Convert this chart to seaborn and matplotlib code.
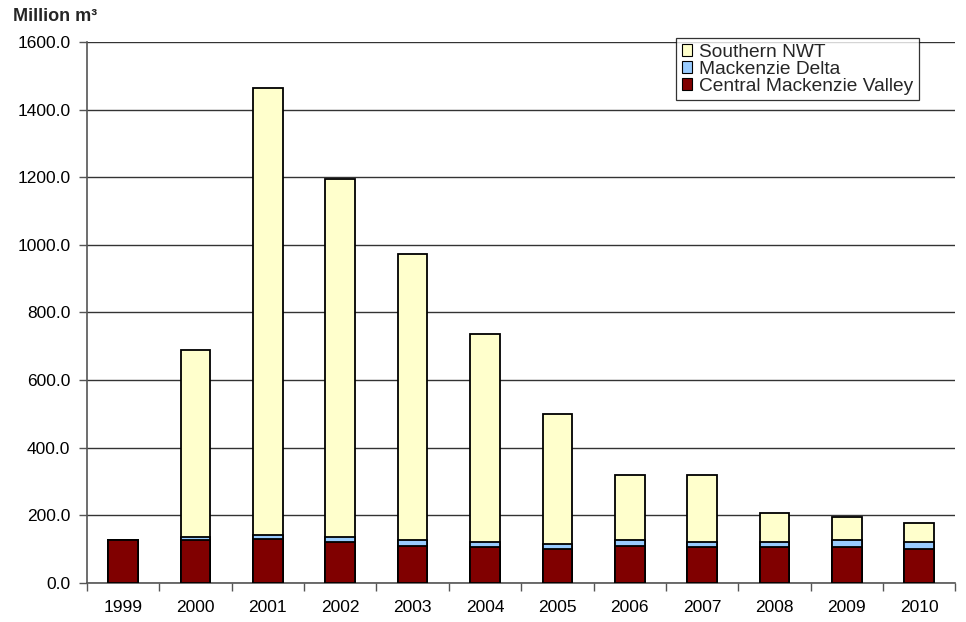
import numpy as np
import pandas as pd
import matplotlib
matplotlib.use("Agg")
import matplotlib.pyplot as plt
import seaborn as sns
from matplotlib.patches import Patch
from matplotlib.ticker import FixedLocator, FixedFormatter

# Volumes (million m3) by region and year
years = ["1999", "2000", "2001", "2002", "2003", "2004",
         "2005", "2006", "2007", "2008", "2009", "2010"]
central_mackenzie_valley = [126, 126, 131, 120, 110, 105, 100, 110, 105, 105, 105, 100]
mackenzie_delta = [0, 10, 11, 17, 16, 16, 14, 16, 16, 16, 21, 21]
southern_nwt = [0, 554, 1322, 1059, 847, 616, 385, 194, 199, 85, 69, 57]

series_names = ["Southern NWT", "Mackenzie Delta", "Central Mackenzie Valley"]
series_colors = ["#FFFFCC", "#99CCFF", "#800000"]
y_ticks = [0, 200, 400, 600, 800, 1000, 1200, 1400, 1600]

sns.set_theme(style="white")
plt.rcParams["font.family"] = ["Liberation Sans", "DejaVu Sans"]

df = pd.DataFrame({
    "year": years,
    "cmv": central_mackenzie_valley,
    "md": mackenzie_delta,
    "snwt": southern_nwt,
})
# cumulative heights, drawn back to front to build the stack
df["cmv_md"] = df["cmv"] + df["md"]
df["total"] = df["cmv_md"] + df["snwt"]

fig = plt.figure(figsize=(9.66, 6.22), dpi=100)
ax = fig.add_axes([0.090, 0.0627, 0.899, 0.8698])

bar_kw = dict(width=0.41, edgecolor="black", linewidth=1.3, saturation=1, errorbar=None, zorder=3)
sns.barplot(data=df, x="year", y="total", color=series_colors[0], ax=ax, **bar_kw)
sns.barplot(data=df, x="year", y="cmv_md", color=series_colors[1], ax=ax, **bar_kw)
sns.barplot(data=df, x="year", y="cmv", color=series_colors[2], ax=ax, **bar_kw)

ax.set_ylim(0, 1600)
ax.set_xlim(-0.5, len(years) - 0.5)
ax.set_yticks(y_ticks)
ax.set_yticklabels([f"{v:.1f}" for v in y_ticks])
ax.yaxis.grid(True, color="#333333", linewidth=1.0, zorder=0)
ax.set_axisbelow(True)
ax.set_xlabel("")
ax.set_ylabel("")

# category labels centred, tick marks on category boundaries
ax.xaxis.set_major_locator(FixedLocator(np.arange(-0.5, len(years), 1.0)))
ax.xaxis.set_major_formatter(FixedFormatter([""] * (len(years) + 1)))
ax.xaxis.set_minor_locator(FixedLocator(np.arange(len(years))))
ax.xaxis.set_minor_formatter(FixedFormatter(years))
ax.tick_params(axis="x", which="major", length=6, width=1, color="#555555", direction="out", bottom=True)
ax.tick_params(axis="x", which="minor", length=0, labelsize=12.5, pad=12, colors="black", bottom=True)
ax.tick_params(axis="y", length=6, width=1, direction="out", left=True,
               labelsize=12.5, pad=6, colors="#555555", labelcolor="black")

for side in ["top", "right"]:
    ax.spines[side].set_visible(False)
for side in ["left", "bottom"]:
    ax.spines[side].set_color("#555555")
    ax.spines[side].set_linewidth(1.2)

handles = [Patch(facecolor=c, edgecolor="black", linewidth=0.8) for c in series_colors]
leg = fig.legend(handles, series_names, loc="upper left", bbox_to_anchor=(0.700, 0.939),
                 fontsize=13.8, frameon=True, fancybox=False, borderpad=0.3,
                 handlelength=0.55, handleheight=0.55, handletextpad=0.35,
                 labelspacing=0.0, borderaxespad=0)
leg.get_frame().set_edgecolor("black")
leg.get_frame().set_linewidth(0.9)

fig.text(0.013, 0.9735, "Million m\u00b3", fontsize=13, fontweight="bold", ha="left", va="center")

fig.savefig("out.png", dpi=100)
